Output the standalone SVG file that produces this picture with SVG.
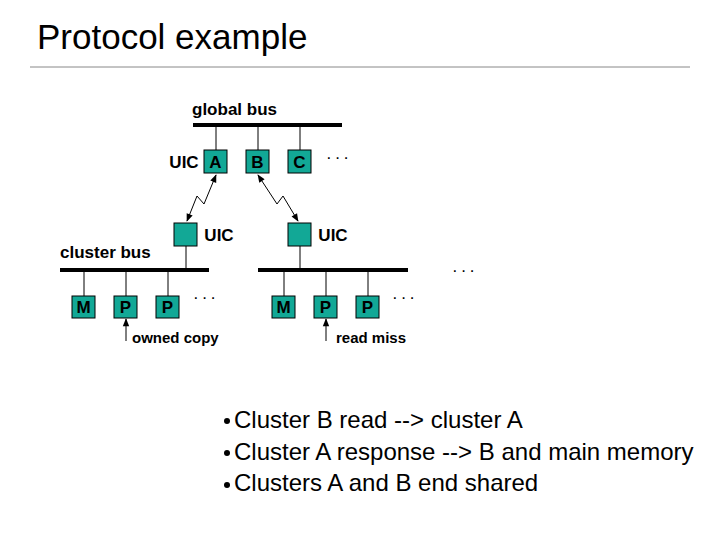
<svg xmlns="http://www.w3.org/2000/svg" width="720" height="540" viewBox="0 0 720 540">
<defs>
<marker id="ah" viewBox="0 0 10 10" refX="9" refY="5" markerWidth="9" markerHeight="8" orient="auto-start-reverse" markerUnits="userSpaceOnUse"><path d="M0,1 L10,5 L0,9 z" fill="#000"/></marker>
<style>
.bx{fill:#12a896;stroke:#000;stroke-width:1}
.bl{font-family:"Liberation Sans",Arial,sans-serif;font-weight:bold;font-size:17px;text-anchor:middle;fill:#000}
.lb{font-family:"Liberation Sans",Arial,sans-serif;font-weight:bold;font-size:17px;fill:#000}
.sm{font-family:"Liberation Sans",Arial,sans-serif;font-weight:bold;font-size:15px;fill:#000}
.bus{stroke:#000;stroke-width:4}
.ln{stroke:#000;stroke-width:1;fill:none}
.bt{font-family:"Liberation Sans",Arial,sans-serif;font-size:24px;fill:#000}
.dt{font-family:"Liberation Sans",Arial,sans-serif;font-size:17px;text-anchor:middle;fill:#000;letter-spacing:3px}
</style>
</defs>
<rect width="720" height="540" fill="#fff"/>
<text x="37" y="49" font-family="Liberation Sans,Arial,sans-serif" font-size="35" fill="#000">Protocol example</text>
<line x1="30" y1="67" x2="690" y2="67" stroke="#888" stroke-width="1"/>
<g id="buses">
<line class="bus" x1="193" y1="125" x2="342" y2="125"/>
<line class="bus" x1="60" y1="270" x2="209" y2="270"/>
<line class="bus" x1="258" y1="270" x2="408" y2="270"/>
<text class="lb" x="192" y="115">global bus</text>
<text class="lb" x="60" y="258">cluster bus</text>
</g>
<g id="connectors">
<line class="ln" x1="216" y1="125" x2="216" y2="150"/>
<line class="ln" x1="258" y1="125" x2="258" y2="150"/>
<line class="ln" x1="300" y1="125" x2="300" y2="150"/>
<line class="ln" x1="186" y1="246" x2="186" y2="270"/>
<line class="ln" x1="300" y1="246" x2="300" y2="270"/>
<line class="ln" x1="84" y1="270" x2="84" y2="296"/>
<line class="ln" x1="126" y1="270" x2="126" y2="296"/>
<line class="ln" x1="168" y1="270" x2="168" y2="296"/>
<line class="ln" x1="284" y1="270" x2="284" y2="296"/>
<line class="ln" x1="326" y1="270" x2="326" y2="296"/>
<line class="ln" x1="368" y1="270" x2="368" y2="296"/>
<polyline class="ln" stroke-width="1.5" points="187,221 197,196 204,204 216,175" marker-start="url(#ah)" marker-end="url(#ah)"/>
<polyline class="ln" stroke-width="1.5" points="258,175 277,204 283,196 298,221" marker-start="url(#ah)" marker-end="url(#ah)"/>
<line class="ln" stroke-width="1.5" x1="126" y1="341" x2="126" y2="319" marker-end="url(#ah)"/>
<line class="ln" stroke-width="1.5" x1="326" y1="341" x2="326" y2="319" marker-end="url(#ah)"/>
</g>
<g id="A"><rect class="bx" x="204" y="150" width="23" height="23"/><text class="bl" x="215.5" y="168">A</text><text class="bl" x="184" y="168">UIC</text></g>
<g id="B"><rect class="bx" x="246" y="150" width="23" height="23"/><text class="bl" x="257.5" y="168">B</text></g>
<g id="C"><rect class="bx" x="288" y="150" width="23" height="23"/><text class="bl" x="299.5" y="168">C</text></g>
<text class="dt" x="339" y="163">···</text>
<g id="uicL"><rect class="bx" x="174" y="223" width="23" height="23"/><text class="bl" x="219" y="241">UIC</text></g>
<g id="uicR"><rect class="bx" x="288" y="223" width="23" height="23"/><text class="bl" x="333" y="241">UIC</text></g>
<g id="M1"><rect class="bx" x="72" y="296" width="23" height="22"/><text class="bl" x="83.5" y="313">M</text></g>
<g id="P1"><rect class="bx" x="114" y="296" width="23" height="22"/><text class="bl" x="125.5" y="313">P</text></g>
<g id="P2"><rect class="bx" x="156" y="296" width="23" height="22"/><text class="bl" x="167.5" y="313">P</text></g>
<g id="M2"><rect class="bx" x="272" y="296" width="23" height="22"/><text class="bl" x="283.5" y="313">M</text></g>
<g id="P3"><rect class="bx" x="314" y="296" width="23" height="22"/><text class="bl" x="325.5" y="313">P</text></g>
<g id="P4"><rect class="bx" x="356" y="296" width="23" height="22"/><text class="bl" x="367.5" y="313">P</text></g>
<text class="dt" x="206" y="303">···</text>
<text class="dt" x="405" y="303">···</text>
<text class="dt" x="465" y="276">···</text>
<text class="sm" x="132" y="343">owned copy</text>
<text class="sm" x="336" y="343">read miss</text>
<g id="bullets">
<circle cx="227" cy="421" r="3"/><circle cx="227" cy="453" r="3"/><circle cx="227" cy="485" r="3"/>
<text class="bt" x="234" y="428">Cluster B read --&gt; cluster A</text>
<text class="bt" x="234" y="460">Cluster A response --&gt; B and main memory</text>
<text class="bt" x="234" y="491">Clusters A and B end shared</text>
</g>
</svg>
